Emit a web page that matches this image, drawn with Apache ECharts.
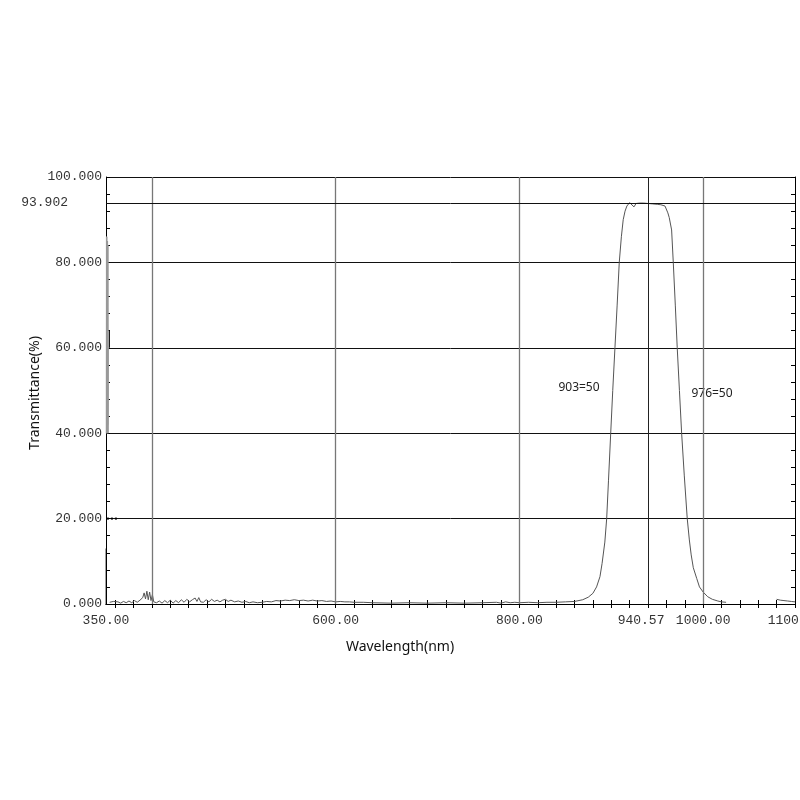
<!DOCTYPE html>
<html><head><meta charset="utf-8">
<script src="https://cdn.jsdelivr.net/npm/echarts@6/dist/echarts.min.js"></script>
<style>html,body{margin:0;padding:0;background:#fff}#c{width:800px;height:800px}</style>
</head><body><div id="c"></div>
<script>
// ---- data ----
const wavelengths = [354,355,358,360,363,366,369,372,375,378,381,384,387,390,391.5,393,394.5,396,397.5,399,400.5,402,405,408,411,414,417,420,423,426,429,432,435,438,441,444,447,449,451,453,456,459,462,465,468,471,474,477,480,483,486,490,494,498,502,506,510,515,520,525,530,535,540,545,550,555,560,565,570,575,580,585,590,595,600,605,610,615,620,630,640,660,680,700,720,740,760,775,780,785,790,795,800,810,820,830,840,850,860,869,875,880,884,887.7,890,893,895,897,899.4,901.6,904,906.4,908.7,911,913,915,917,920,922,924.7,927,931,935,940,945,950,954,956,958.5,961.6,963.1,965.7,967.5,969.7,971.8,974.2,976.6,979.5,982.7,985,987,989.3,993,996,1000,1005,1010,1016,1020,1025,1026,1079,1080,1084,1088,1092,1096,1100];
const transmittance = [0.4,0.3,0.6,0.2,0.5,0.2,0.6,0.3,0.7,0.3,0.8,0.4,0.9,1.5,2.6,1.2,3.0,1.0,2.8,0.8,2.2,0.5,0.3,0.7,0.2,0.8,0.3,0.9,0.2,0.8,0.3,1.0,0.4,1.1,0.5,1.0,1.4,0.6,1.5,0.5,0.4,1.0,0.5,1.1,0.6,0.9,0.5,0.9,1.1,0.6,0.9,0.5,0.7,0.4,0.6,0.3,0.5,0.3,0.4,0.6,0.5,0.8,0.7,0.9,0.8,1.0,0.8,0.9,0.7,0.9,0.7,0.8,0.6,0.7,0.5,0.6,0.5,0.5,0.4,0.4,0.3,0.2,0.3,0.2,0.3,0.2,0.3,0.4,0.2,0.5,0.3,0.4,0.3,0.4,0.3,0.4,0.4,0.5,0.6,1.0,1.6,2.5,4.0,6.4,9.5,14.5,20,29,40,50,60,70,80,86,90,92,93.2,94.0,94.1,93.0,93.8,93.9,93.9,93.8,93.7,93.6,93.5,93.4,93.2,91.6,90.5,87.6,80,70,60,50,40,30,20,15,11.5,8.5,6,4,2.8,1.7,1.1,0.7,0.5,0.4,null,null,1.1,0.9,0.8,0.7,0.6,0.5];
// start-of-scan artifacts
const bandWl = [350.3,350.5,350.7,350.9,351.1,351.3,351.5,351.7,351.9,352.1,352.3,352.5];
const bandT  = [40,86,40,86,41,85,40,85,42,84,40,60];
const spikeWl = [350.15,350.15,352,353.7,353.7];
const spikeT  = [0,13,null,60,64];
const dotWl = [351,363];
const dotT  = [20,20];
// axis ticks / labels / reference lines
const xLabelValues = [350,600,800,940.57,1000,1100];
const xGridValues = [400,600,800,940.57,1000];
const refLevel = 93.902;
const annotations = ['903=50','976=50'];
const xTickValues = [];
for (let v = 360; v <= 1100; v += 20) xTickValues.push(v);

const pairs = (xs, ys) => xs.map((x, i) => [x, ys[i]]);

const monoFont = 'Liberation Mono';
const chart = echarts.init(document.getElementById('c'));
const axisLineStyle = {color:'#000', width:1};
chart.setOption({
  animation:false,
  backgroundColor:'#fff',
  grid:{left:106, right:5, top:177, bottom:196, containLabel:false, outerBoundsMode:'none'},
  xAxis:[{
    type:'value', min:350, max:1100, position:'bottom',
    axisLine:{show:true, lineStyle:axisLineStyle},
    axisTick:{show:true, inside:true, length:4, customValues:xTickValues, lineStyle:{color:'#000'}},
    axisLabel:{show:true, customValues:xLabelValues, margin:10, color:'#333', fontFamily:monoFont, fontSize:13,
      hideOverlap:false,
      formatter:v => (Math.abs(v-940.57)<1e-6) ? '{s|'+v.toFixed(2)+'}' : v.toFixed(2),
      rich:{s:{fontFamily:monoFont, fontSize:13, color:'#333', padding:[0,15,0,0]}}},
    splitLine:{show:false}
  },{
    type:'value', min:350, max:1100, position:'top',
    axisLine:{show:true, lineStyle:axisLineStyle},
    axisTick:{show:true, inside:true, length:4, customValues:xTickValues, lineStyle:{color:'#000'}},
    axisLabel:{show:false}, splitLine:{show:false}
  }],
  yAxis:[{
    type:'value', min:0, max:100, interval:20, position:'left',
    axisLine:{show:true, lineStyle:axisLineStyle},
    axisTick:{show:true, inside:true, length:4, lineStyle:{color:'#000'}},
    minorTick:{show:true, splitNumber:5, length:4, lineStyle:{color:'#000'}},
    axisLabel:{show:true, margin:4, color:'#333', fontFamily:monoFont, fontSize:13, formatter:v => v.toFixed(3)},
    splitLine:{show:true, lineStyle:{color:'#111', width:1}}
  },{
    type:'value', min:0, max:100, interval:20, position:'right',
    axisLine:{show:true, lineStyle:axisLineStyle},
    axisTick:{show:true, inside:true, length:4, lineStyle:{color:'#000'}},
    minorTick:{show:true, splitNumber:5, length:4, lineStyle:{color:'#000'}},
    axisLabel:{show:false}, splitLine:{show:false}
  }],
  series:[{
    type:'line', data:pairs(wavelengths, transmittance), showSymbol:false, connectNulls:false,
    lineStyle:{color:'#555', width:1}, itemStyle:{color:'#555'}, z:3,
    markLine:{
      silent:true, symbol:'none', animation:false,
      data:[
        ...xGridValues.map(v => ({xAxis:v, label:{show:false},
          lineStyle:{color: v===940.57 ? '#222' : '#777', width: v===940.57 ? 1 : 1.3, type:'solid'}})),
        {yAxis:refLevel, lineStyle:{color:'#111', width:1, type:'solid'},
          label:{show:true, position:'start', distance:38, formatter:refLevel.toFixed(3),
            color:'#333', fontFamily:monoFont, fontSize:13}}
      ]
    }
  },{
    type:'line', data:pairs(bandWl, bandT), showSymbol:false,
    lineStyle:{color:'#999', width:1}, z:2
  },{
    type:'line', data:pairs(spikeWl, spikeT), showSymbol:false, connectNulls:false,
    lineStyle:{color:'#000', width:1}, z:2
  },{
    type:'line', data:pairs(dotWl, dotT), showSymbol:false,
    lineStyle:{color:'#000', width:2, type:'dotted'}, z:2
  }],
  graphic:[
    {type:'text', x:400, y:647, style:{text:'Wavelength(nm)', fill:'#111', font:'14px "Noto Sans"', textAlign:'center', textVerticalAlign:'middle'}},
    {type:'text', x:35, y:393, rotation:Math.PI/2, style:{text:'Transmittance(%)', fill:'#111', font:'14px "Noto Sans"', textAlign:'center', textVerticalAlign:'middle'}},
    {type:'text', x:579, y:388, style:{text:annotations[0], fill:'#222', font:'12px "Noto Sans"', textAlign:'center', textVerticalAlign:'middle'}},
    {type:'text', x:712, y:394, style:{text:annotations[1], fill:'#222', font:'12px "Noto Sans"', textAlign:'center', textVerticalAlign:'middle'}}
  ]
});
</script>
</body></html>
